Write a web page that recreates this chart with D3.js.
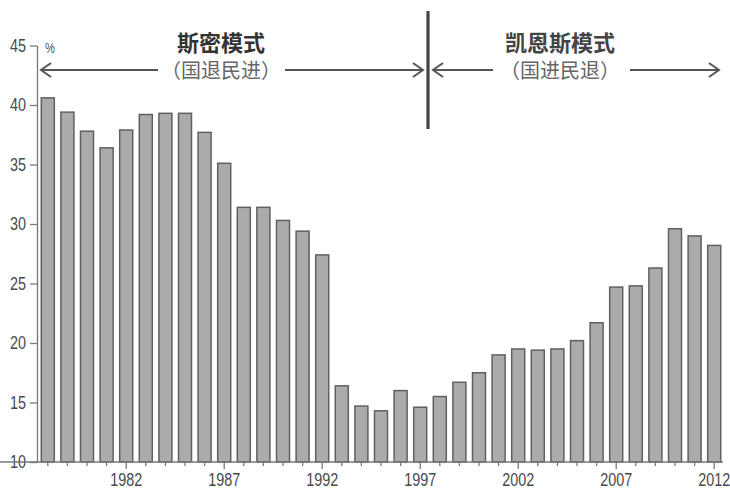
<!DOCTYPE html>
<html><head><meta charset="utf-8">
<script src="https://cdn.jsdelivr.net/npm/d3@7"></script>
<style>
html,body{margin:0;padding:0;background:#fff;}
svg{display:block;}
</style></head>
<body>
<svg id="c" width="730" height="493"></svg>
<script>
const years = d3.range(1978, 2013);
const shares = [40.6, 39.4, 37.8, 36.4, 37.9, 39.2, 39.3, 39.3, 37.7, 35.1,
  31.4, 31.4, 30.3, 29.4, 27.4, 16.4, 14.7, 14.3, 16.0, 14.6,
  15.5, 16.7, 17.5, 19.0, 19.5, 19.4, 19.5, 20.2, 21.7, 24.7,
  24.8, 26.3, 29.6, 29.0, 28.2];
const yTicks = [10, 15, 20, 25, 30, 35, 40, 45];
const labeledYears = [1982, 1987, 1992, 1997, 2002, 2007, 2012];
const unitLabel = "%";
const phaseTitles = ["斯密模式", "凯恩斯模式"];
const phaseSubtitles = ["（国退民进）", "（国进民退）"];

const svg = d3.select("#c");
const numFont = "'Liberation Sans','Arial',sans-serif";
const cjkFont = "'Noto Sans CJK SC',sans-serif";
const narrow = 0.8;

const x = d3.scaleBand().domain(years).range([38, 724]).paddingInner(0.26).paddingOuter(0.13);
const y = d3.scaleLinear().domain([10, 45]).range([462, 45.5]);

// bars
svg.append("g").selectAll("rect").data(years).join("rect")
  .attr("x", d => x(d) + 0.75)
  .attr("y", (d, i) => y(shares[i]))
  .attr("width", x.bandwidth() - 1.5)
  .attr("height", (d, i) => y(10) - y(shares[i]))
  .attr("fill", "#ababab")
  .attr("stroke", "#606060")
  .attr("stroke-width", 1.5);

// y axis
const yAxis = svg.append("g").attr("transform", "translate(37,0)")
  .call(d3.axisLeft(y).tickValues(yTicks).tickSize(7).tickSizeOuter(0).tickPadding(0));
yAxis.select(".domain").attr("stroke", "#777").attr("stroke-width", 1.3);
yAxis.selectAll(".tick line").attr("stroke", "#777").attr("stroke-width", 1.3);
yAxis.selectAll(".tick text").attr("font-family", numFont).attr("font-size", 18).attr("fill", "#4a4a4a")
  .attr("x", -11 / narrow).attr("transform", `scale(${narrow},1)`);

svg.append("text").attr("x", 45).attr("y", 53).attr("font-family", numFont)
  .attr("font-size", 14).attr("fill", "#555").attr("transform", `translate(45,0) scale(${narrow},1) translate(-45,0)`)
  .text(unitLabel);

// x axis
const xAxis = svg.append("g").attr("transform", `translate(0,${y(10)})`)
  .call(d3.axisBottom(x).tickSize(4).tickSizeOuter(0).tickPadding(7)
    .tickFormat(d => labeledYears.includes(d) ? d : ""));
xAxis.select(".domain").attr("stroke", "#777").attr("stroke-width", 1.3).attr("d", "M-7,0H723");
xAxis.selectAll(".tick line").attr("stroke", "#777").attr("stroke-width", 1.3)
  .attr("y2", d => labeledYears.includes(d) ? 7 : 4);
xAxis.selectAll(".tick text").attr("font-family", numFont).attr("font-size", 18).attr("fill", "#4a4a4a")
  .attr("transform", `scale(${narrow},1)`);

// phase divider
const breakX = x(1997) + x.bandwidth() / 2 + x.step() / 2 - 2;
svg.append("line").attr("x1", breakX).attr("x2", breakX).attr("y1", 11).attr("y2", 129)
  .attr("stroke", "#444").attr("stroke-width", 3.2);

// annotations
const arrowY = 70;
const ann = svg.append("g").attr("stroke", "#555").attr("stroke-width", 2).attr("fill", "none");
function seg(x1, x2) { ann.append("line").attr("x1", x1).attr("x2", x2).attr("y1", arrowY).attr("y2", arrowY); }
function headLeft(px) { ann.append("path").attr("d", `M${px + 10},${arrowY - 7}L${px},${arrowY}L${px + 10},${arrowY + 7}`); }
function headRight(px) { ann.append("path").attr("d", `M${px - 10},${arrowY - 7}L${px},${arrowY}L${px - 10},${arrowY + 7}`); }

const leftStart = 41, rightEnd = 719;
const c1 = 221, c2 = 560;
seg(leftStart, 158); headLeft(leftStart);
seg(285, breakX - 5); headRight(breakX - 5);
seg(breakX + 5, 493); headLeft(breakX + 5);
seg(630, rightEnd); headRight(rightEnd);

svg.append("text").attr("x", c1).attr("y", 51).attr("text-anchor", "middle")
  .attr("font-family", cjkFont).attr("font-weight", "bold").attr("font-size", 22).attr("fill", "#333")
  .text(phaseTitles[0]);
svg.append("text").attr("x", c2).attr("y", 51).attr("text-anchor", "middle")
  .attr("font-family", cjkFont).attr("font-weight", "bold").attr("font-size", 22).attr("fill", "#444")
  .text(phaseTitles[1]);
svg.append("text").attr("x", c1).attr("y", 78).attr("text-anchor", "middle")
  .attr("font-family", cjkFont).attr("font-size", 20).attr("fill", "#666")
  .text(phaseSubtitles[0]);
svg.append("text").attr("x", c2).attr("y", 78).attr("text-anchor", "middle")
  .attr("font-family", cjkFont).attr("font-size", 20).attr("fill", "#666")
  .text(phaseSubtitles[1]);
</script>
</body></html>
